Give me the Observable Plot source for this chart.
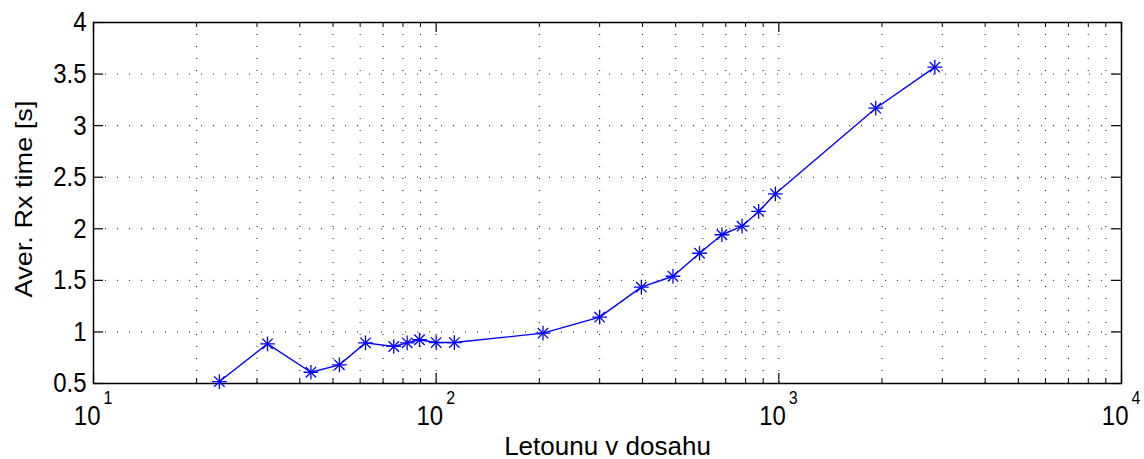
<!DOCTYPE html>
<html><head><meta charset="utf-8">
<script src="https://cdn.jsdelivr.net/npm/d3@7"></script>
<script src="https://cdn.jsdelivr.net/npm/@observablehq/plot@0.6"></script>
<style>body{margin:0;background:#fff}</style>
</head><body><div id="chart"></div>
<script>
// Data
const aircraft = [23.3, 32.2, 43.1, 52.2, 62.2, 75.2, 82.3, 89.4, 100, 113, 205, 300, 397, 491, 587, 682, 781, 873, 977, 1918, 2853];
const rxTime   = [0.519, 0.885, 0.609, 0.681, 0.894, 0.859, 0.894, 0.924, 0.897, 0.897, 0.988, 1.143, 1.434, 1.540, 1.763, 1.942, 2.025, 2.168, 2.339, 3.169, 3.567];

// Axis ticks / labels
const yTicks = [0.5, 1, 1.5, 2, 2.5, 3, 3.5, 4];
const xMajor = [10, 100, 1000, 10000];
const xExponent = ["1", "2", "3", "4"];
const xMinor = [20,30,40,50,60,70,80,90, 200,300,400,500,600,700,800,900, 2000,3000,4000,5000,6000,7000,8000,9000];
const xLabel = "Letounu v dosahu";
const yLabel = "Aver. Rx time [s]";

const data = aircraft.map((x, i) => ({x, y: rxTime[i]}));
const xMajorData = xMajor.map((x, i) => ({x, e: xExponent[i]}));

const W = 1144, H = 459;
const mL = 93, mR = 23, mT = 22, mB = 76;
const fw = W - mL - mR, fh = H - mT - mB;
const blue = "#0000ff";
const font = "'Liberation Sans', Arial, Helvetica, sans-serif";
const grid = {stroke: "black", strokeOpacity: 0.9, strokeWidth: 1, strokeDasharray: "1,11"};

const chart = Plot.plot({
  width: W, height: H,
  marginLeft: mL, marginRight: mR, marginTop: mT, marginBottom: mB,
  x: {type: "log", domain: [10, 10000], axis: null},
  y: {domain: [0.5, 4], axis: null},
  style: {fontFamily: font, background: "white", color: "black", overflow: "visible"},
  marks: [
    Plot.gridX([...xMinor, ...xMajor.slice(1, -1)], grid),
    Plot.gridY(yTicks.slice(1, -1), grid),
    // major x ticks (bottom & top), inward
    Plot.tickX(xMajor, {x: d => d, stroke: "black", strokeWidth: 1.2, insetTop: fh - 10}),
    Plot.tickX(xMajor, {x: d => d, stroke: "black", strokeWidth: 1.2, insetBottom: fh - 10}),
    // minor x ticks
    Plot.tickX(xMinor, {x: d => d, stroke: "black", strokeWidth: 1, insetTop: fh - 5}),
    Plot.tickX(xMinor, {x: d => d, stroke: "black", strokeWidth: 1, insetBottom: fh - 5}),
    // y ticks left & right, inward
    Plot.tickY(yTicks, {y: d => d, stroke: "black", strokeWidth: 1.2, insetRight: fw - 10}),
    Plot.tickY(yTicks, {y: d => d, stroke: "black", strokeWidth: 1.2, insetLeft: fw - 10}),
    Plot.frame({stroke: "black", strokeWidth: 1.5}),
    // series
    Plot.line(data, {x: "x", y: "y", stroke: blue, strokeWidth: 1.4}),
    Plot.dot(data, {x: "x", y: "y", symbol: "plus", r: 4.8, stroke: blue, fill: "none", strokeWidth: 1.3}),
    Plot.dot(data, {x: "x", y: "y", symbol: "times", r: 4.8, stroke: blue, fill: "none", strokeWidth: 1.3}),
    // y tick labels
    Plot.text(yTicks, {y: d => d, text: d => String(d), frameAnchor: "left", textAnchor: "end", dx: -7, fontSize: 24, fill: "black", ariaDescription: "stretch"}),
    // x tick labels 10^k
    Plot.text(xMajorData, {x: "x", text: () => "10", frameAnchor: "bottom", textAnchor: "end", lineAnchor: "bottom", dx: 7, dy: 41.5, fontSize: 24, fill: "black", ariaDescription: "stretch"}),
    Plot.text(xMajorData, {x: "x", text: "e", frameAnchor: "bottom", textAnchor: "start", lineAnchor: "bottom", dx: 10, dy: 20, fontSize: 16, fill: "black", ariaDescription: "stretch"}),
    // axis titles
    Plot.text([xLabel], {text: d => d, frameAnchor: "bottom", textAnchor: "middle", lineAnchor: "bottom", dy: 71, fontSize: 26, fill: "black"}),
    Plot.text([yLabel], {text: d => d, frameAnchor: "left", textAnchor: "middle", rotate: -90, lineAnchor: "bottom", dx: -62, dy: -4, fontSize: 24, fill: "black", ariaDescription: "stretchrot"})
  ]
});

function stretch(sel, s) {
  chart.querySelectorAll(sel).forEach(t => {
    const tr = t.getAttribute("transform");
    if (tr) {
      t.setAttribute("transform", tr + " " + s);
    } else {
      const x = parseFloat(t.getAttribute("x") || 0), y = t.getAttribute("y");
      if (y === null || /^-?[\d.]+$/.test(y)) {
        t.setAttribute("transform", `translate(${x},${parseFloat(y || 0)}) ${s}`);
        t.removeAttribute("x"); t.removeAttribute("y");
      }
    }
  });
}
stretch('g[aria-description="stretch"] text', "scale(1,1.17)");
stretch('g[aria-description="stretchrot"] text', "scale(1.13,1)");

document.getElementById("chart").appendChild(chart);
</script>
</body></html>
